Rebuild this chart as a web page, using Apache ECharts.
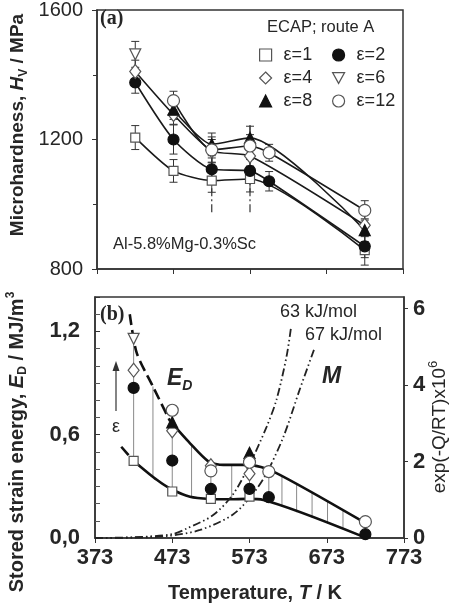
<!DOCTYPE html>
<html><head><meta charset="utf-8">
<script src="https://cdn.jsdelivr.net/npm/echarts@6/dist/echarts.min.js"></script>
<style>html,body{margin:0;padding:0;background:#fff}#c{width:454px;height:604px}</style>
</head><body><div id="c"></div>
<script>
// ---------- DATA ----------
const temps = [423, 473, 523, 573, 598, 723];
const strainNames = ['ε=1', 'ε=2', 'ε=4', 'ε=6', 'ε=8', 'ε=12'];
// (a) microhardness HV, MPa
const hv_e1  = [1206, 1103, 1073, 1078, null, 858];
const hv_e2  = [1376, 1200, 1108, 1103, 1071, 870];
const hv_e4  = [1410, 1277, 1165, 1149, null, 935];
const hv_e6  = [1463, null, null, null, null, null];
const hv_e8  = [null, 1292, 1185, 1205, null, 920];
const hv_e12 = [null, 1320, 1168, 1180, 1159, 981];
// error bar half-widths, MPa
const err_e1  = [37, 35, 36, 40, null, 46];
const err_e2  = [33, 45, 35, 35, 30, 35];
const err_e4  = [35, 30, 35, 35, null, 35];
const err_e6  = [40, null, null, null, null, null];
const err_e8  = [null, 30, 35, 36, null, 35];
const err_e12 = [null, 29, 40, 35, 26, 30];
// dash-dot vertical markers in (a): [T, low, high]
const hvGuides = [[523, 975, 1195], [573, 975, 1245]];
// (b) stored strain energy ED, MJ/m3
const ed_e1  = [0.448, 0.270, 0.227, 0.240, null, null];
const ed_e2  = [0.872, 0.450, 0.285, 0.285, 0.237, 0.022];
const ed_e4  = [0.975, 0.623, 0.420, 0.373, null, null];
const ed_e6  = [1.157, null, null, null, null, null];
const ed_e8  = [null, 0.672, null, 0.495, null, null];
const ed_e12 = [null, 0.742, 0.390, 0.440, 0.386, 0.095];
// vertical strain bars and hatch lines: [T, low, high]
const edBars = [[423, 0.448, 1.157], [473, 0.270, 0.742], [523, 0.227, 0.420], [573, 0.240, 0.495], [598, 0.237, 0.386]];
const edHatch = [[448, 0.350, 0.880], [498, 0.240, 0.540], [550, 0.225, 0.425], [615, 0.181, 0.358], [634, 0.150, 0.311],
                 [654, 0.117, 0.261], [674, 0.084, 0.210], [694, 0.051, 0.160]];
// envelope curves
const edUpperDash  = [[418, 1.30], [427, 1.075], [448, 0.88], [470, 0.68]];
const edUpperSolid = [[470, 0.68], [496, 0.55], [520, 0.444], [539, 0.425], [571, 0.425], [604, 0.386], [720, 0.095]];
const edLowerDash  = [[407, 0.53], [423, 0.448]];
const edLowerSolid = [[423, 0.448], [453, 0.338], [472, 0.283], [496, 0.24], [522, 0.227], [548, 0.225], [569, 0.227], [591, 0.221], [720, 0.008]];
// exp(-Q/RT) x 1e6 curves (right axis)
const arr63 = [[373, 0], [423, 0.02], [473, 0.1], [492, 0.25], [526, 0.6], [552, 1.15], [574, 1.96], [595, 2.9], [608, 3.62], [621, 4.75], [627, 5.54]];
const arr67 = [[373, 0], [423, 0.01], [466, 0.05], [509, 0.21], [552, 0.62], [578, 1.17], [595, 1.69], [617, 2.65], [638, 3.88], [657, 4.95]];
// axis ticks
const xTicks = [373, 473, 573, 673, 773];

// ---------- STYLE ----------
const FONT = '"Liberation Sans", Arial, sans-serif';
const INK = '#262626';
const markStyle = {
  'ε=1':  {symbol: 'rect', size: 9, rot: 0, fill: '#fff', stroke: '#555'},
  'ε=2':  {symbol: 'circle', size: 11, rot: 0, fill: '#111', stroke: '#111'},
  'ε=4':  {symbol: 'diamond', size: [11, 14], rot: 0, fill: '#fff', stroke: '#555'},
  'ε=6':  {symbol: 'triangle', size: 11, rot: 180, fill: '#fff', stroke: '#555'},
  'ε=8':  {symbol: 'triangle', size: 11, rot: 0, fill: '#111', stroke: '#111'},
  'ε=12': {symbol: 'circle', size: 12, rot: 0, fill: '#fff', stroke: '#555'}
};
const legendIcons = {
  'ε=1': 'rect', 'ε=2': 'circle', 'ε=4': 'diamond',
  'ε=6': 'path://M0,0L10,0L5,9Z', 'ε=8': 'triangle', 'ε=12': 'circle'
};

const hvSets = [hv_e1, hv_e2, hv_e4, hv_e6, hv_e8, hv_e12];
const errSets = [err_e1, err_e2, err_e4, err_e6, err_e8, err_e12];
const edSets = [ed_e1, ed_e2, ed_e4, ed_e6, ed_e8, ed_e12];

function pairs(vals) {
  const out = [];
  vals.forEach((v, i) => { if (v !== null) out.push([temps[i], v]); });
  return out;
}
function vbarRender(color, width, cap) {
  return function (params, api) {
    const x = api.value(0), lo = api.value(1), hi = api.value(2);
    const p1 = api.coord([x, lo]), p2 = api.coord([x, hi]);
    const st = {stroke: color, lineWidth: width, fill: null};
    const ch = [{type: 'line', shape: {x1: p1[0], y1: p1[1], x2: p2[0], y2: p2[1]}, style: st}];
    if (cap) {
      ch.push({type: 'line', shape: {x1: p1[0] - cap, y1: p1[1], x2: p1[0] + cap, y2: p1[1]}, style: st});
      ch.push({type: 'line', shape: {x1: p2[0] - cap, y1: p2[1], x2: p2[0] + cap, y2: p2[1]}, style: st});
    }
    return {type: 'group', children: ch};
  };
}

const series = [];
// (a) lines
[0, 1, 2, 4, 5].forEach(k => {
  series.push({
    name: '_la' + k, type: 'line', xAxisIndex: 0, yAxisIndex: 0, data: pairs(hvSets[k]),
    showSymbol: false, smooth: 0.22, connectNulls: true, z: 3, silent: true,
    lineStyle: {color: '#1a1a1a', width: 1.6}
  });
});
// (a) error bars
const errData = [];
hvSets.forEach((set, k) => set.forEach((v, i) => {
  if (v !== null) errData.push([temps[i], v - errSets[k][i], v + errSets[k][i]]);
}));
series.push({type: 'custom', name: '_err', xAxisIndex: 0, yAxisIndex: 0, data: errData, z: 2, silent: true,
  renderItem: vbarRender('#333', 1, 4), encode: {x: 0, y: [1, 2]}});
// (a) dash-dot guides
hvGuides.forEach((g, i) => {
  series.push({name: '_g' + i, type: 'line', xAxisIndex: 0, yAxisIndex: 0, data: [[g[0], g[1]], [g[0], g[2]]],
    showSymbol: false, silent: true, z: 2, lineStyle: {color: '#333', width: 1.2, type: [8, 3, 2, 3]}});
});
// (a) markers
strainNames.forEach((n, k) => {
  const m = markStyle[n];
  series.push({name: n, type: 'scatter', xAxisIndex: 0, yAxisIndex: 0, data: pairs(hvSets[k]),
    symbol: m.symbol, symbolSize: m.size, symbolRotate: m.rot, z: 5,
    itemStyle: {color: m.fill, borderColor: m.stroke, borderWidth: 1.2, opacity: 1}});
});

// (b) hatch + strain bars
series.push({type: 'custom', name: '_hatch', xAxisIndex: 1, yAxisIndex: 1, data: edHatch.concat(edBars), z: 2, silent: true,
  renderItem: vbarRender('#8a8a8a', 1, 0), encode: {x: 0, y: [1, 2]}});
// (b) envelopes
const env = (name, d, dashed) => ({name, type: 'line', xAxisIndex: 1, yAxisIndex: 1, data: d, showSymbol: false,
  smooth: 0.25, silent: true, z: 3, lineStyle: {color: '#111', width: 2.6, type: dashed ? [11, 5] : 'solid'}});
series.push(env('_uD', edUpperDash, true), env('_uS', edUpperSolid, false),
            env('_lD', edLowerDash, true), env('_lS', edLowerSolid, false));
// (b) Arrhenius curves
[arr63, arr67].forEach((d, i) => {
  series.push({name: '_arr' + i, type: 'line', xAxisIndex: 1, yAxisIndex: 2, data: d, showSymbol: false,
    smooth: 0.3, silent: true, z: 3, lineStyle: {color: '#222', width: 1.8, type: [8, 3, 1.5, 3, 1.5, 3]}});
});
// (b) markers
strainNames.forEach((n, k) => {
  const m = markStyle[n];
  series.push({name: n, type: 'scatter', xAxisIndex: 1, yAxisIndex: 1, data: pairs(edSets[k]),
    symbol: m.symbol, symbolSize: m.size, symbolRotate: m.rot, z: 5,
    itemStyle: {color: m.fill, borderColor: m.stroke, borderWidth: 1.2, opacity: 1}});
});

function legendItems(names) {
  return names.map(n => ({name: n, icon: legendIcons[n],
    itemStyle: {color: markStyle[n].fill, borderColor: markStyle[n].stroke, borderWidth: 1.2}}));
}
const legendCommon = {orient: 'vertical', itemWidth: 12, itemHeight: 12, itemGap: 5, selectedMode: false,
  textStyle: {fontFamily: FONT, fontSize: 18, color: INK, padding: [0, 0, 0, 7]}};

const TICKB = {fontFamily: FONT, fontSize: 22, fontWeight: 'bold', color: INK};
const option = {
  animation: false,
  backgroundColor: '#fff',
  grid: [
    {left: 97, right: 51, top: 8, height: 261, show: true, borderColor: '#333', borderWidth: 1.5},
    {left: 95, right: 50, top: 297, height: 241, show: true, borderColor: '#333', borderWidth: 1.5}
  ],
  xAxis: [
    {type: 'value', gridIndex: 0, min: xTicks[0], max: xTicks[xTicks.length - 1], interval: 100,
     axisLine: {lineStyle: {color: '#333', width: 1.5}}, axisTick: {length: 5, lineStyle: {color: '#333'}},
     axisLabel: {show: false}, splitLine: {show: false}},
    {type: 'value', gridIndex: 1, min: xTicks[0], max: xTicks[xTicks.length - 1], interval: 100,
     axisLine: {lineStyle: {color: '#333', width: 1.5}}, axisTick: {length: 5, lineStyle: {color: '#333'}},
     axisLabel: Object.assign({margin: 9}, TICKB),
     splitLine: {show: false}}
  ],
  yAxis: [
    {type: 'value', gridIndex: 0, min: 800, max: 1600, interval: 400,
     axisLine: {show: true, lineStyle: {color: '#333', width: 1.5}},
     axisTick: {show: true, length: 5, lineStyle: {color: '#333'}},
     minorTick: {show: true, splitNumber: 2, length: 4, lineStyle: {color: '#333'}},
     axisLabel: {fontFamily: FONT, fontSize: 20, color: INK, margin: 14, formatter: v => String(v)},
     splitLine: {show: false}},
    {type: 'value', gridIndex: 1, min: 0, max: 1.4, interval: 0.6,
     axisLine: {show: true, lineStyle: {color: '#333', width: 1.5}},
     axisTick: {show: true, inside: true, length: 5, lineStyle: {color: '#333'}},
     minorTick: {show: true, splitNumber: 6, length: 5, lineStyle: {color: '#555'}},
     axisLabel: Object.assign({margin: 15, showMaxLabel: false,
       formatter: v => v.toFixed(1).replace('.', ',')}, TICKB), splitLine: {show: false}},
    {type: 'value', gridIndex: 1, position: 'right', min: 0, max: 6.3, interval: 2,
     axisLine: {show: true, lineStyle: {color: '#333', width: 1.5}},
     axisTick: {show: true, length: 4, lineStyle: {color: '#333'}},
     axisLabel: Object.assign({margin: 9, showMaxLabel: false}, TICKB), splitLine: {show: false}}
  ],
  legend: [
    Object.assign({left: 254, top: 41, data: legendItems(['ε=1', 'ε=4', 'ε=8'])}, legendCommon),
    Object.assign({left: 327, top: 41, data: legendItems(['ε=2', 'ε=6', 'ε=12'])}, legendCommon)
  ],
  graphic: [
    {type: 'text', x: 18, y: 125, rotation: Math.PI / 2, style: {
      text: 'Microhardness, {i|H}{s|V} / MPa', align: 'center', verticalAlign: 'middle',
      font: 'bold 19px ' + FONT, fill: INK,
      rich: {i: {font: 'italic bold 19px ' + FONT, fill: INK}, s: {font: 'bold 12px ' + FONT, fill: INK, padding: [11, 0, 0, 0]}}}},
    {type: 'text', x: 17, y: 442, rotation: Math.PI / 2, style: {
      text: 'Stored strain energy, {i|E}{s|D} / MJ/m{p|3}', align: 'center', verticalAlign: 'middle',
      font: 'bold 20px ' + FONT, fill: INK,
      rich: {i: {font: 'italic bold 20px ' + FONT, fill: INK}, s: {font: 'bold 12px ' + FONT, fill: INK, padding: [11, 0, 0, 0]},
             p: {font: 'bold 12px ' + FONT, fill: INK, padding: [0, 0, 12, 0]}}}},
    {type: 'text', x: 440, y: 427, rotation: Math.PI / 2, style: {
      text: 'exp(-Q/RT)x10{p|6}', align: 'center', verticalAlign: 'middle',
      font: '19px ' + FONT, fill: INK,
      rich: {p: {font: '13px ' + FONT, fill: INK, padding: [0, 0, 13, 0]}}}},
    {type: 'text', x: 255, y: 593, style: {
      text: 'Temperature, {i|T} / K', align: 'center', verticalAlign: 'middle',
      font: 'bold 20px ' + FONT, fill: INK, rich: {i: {font: 'italic bold 20px ' + FONT, fill: INK}}}},
    {type: 'text', x: 100, y: 19, style: {text: '(a)', font: 'bold 20px "Liberation Serif", serif', fill: INK, verticalAlign: 'middle'}},
    {type: 'text', x: 100, y: 315, style: {text: '(b)', font: 'bold 20px "Liberation Serif", serif', fill: INK, verticalAlign: 'middle'}},
    {type: 'text', x: 267, y: 27, style: {text: 'ECAP; route A', font: '16.5px ' + FONT, fill: INK, verticalAlign: 'middle'}},
    {type: 'text', x: 113, y: 244, style: {text: 'Al-5.8%Mg-0.3%Sc', font: '16.5px ' + FONT, fill: INK, verticalAlign: 'middle'}},
    {type: 'text', x: 167, y: 379, style: {text: 'E{s|D}', font: 'italic bold 23px ' + FONT, fill: INK, verticalAlign: 'middle',
      rich: {s: {font: 'italic bold 14px ' + FONT, fill: INK, padding: [15, 0, 0, 0]}}}},
    {type: 'text', x: 322, y: 377, style: {text: 'M', font: 'italic bold 23px ' + FONT, fill: INK, verticalAlign: 'middle'}},
    {type: 'text', x: 280, y: 312, style: {text: '63 kJ/mol', font: '18px ' + FONT, fill: INK, verticalAlign: 'middle'}},
    {type: 'text', x: 305, y: 335, style: {text: '67 kJ/mol', font: '18px ' + FONT, fill: INK, verticalAlign: 'middle'}},
    {type: 'text', x: 116, y: 427, style: {text: 'ε', font: '18px ' + FONT, fill: INK, align: 'center', verticalAlign: 'middle'}},
    {type: 'line', shape: {x1: 116, y1: 411, x2: 116, y2: 368}, style: {stroke: '#333', lineWidth: 1.2}},
    {type: 'polygon', shape: {points: [[112.5, 371], [116, 361], [119.5, 371]]}, style: {fill: '#333'}}
  ],
  series: series
};
const chart = echarts.init(document.getElementById('c'), null, {renderer: 'canvas'});
chart.setOption(option);
</script></body></html>
